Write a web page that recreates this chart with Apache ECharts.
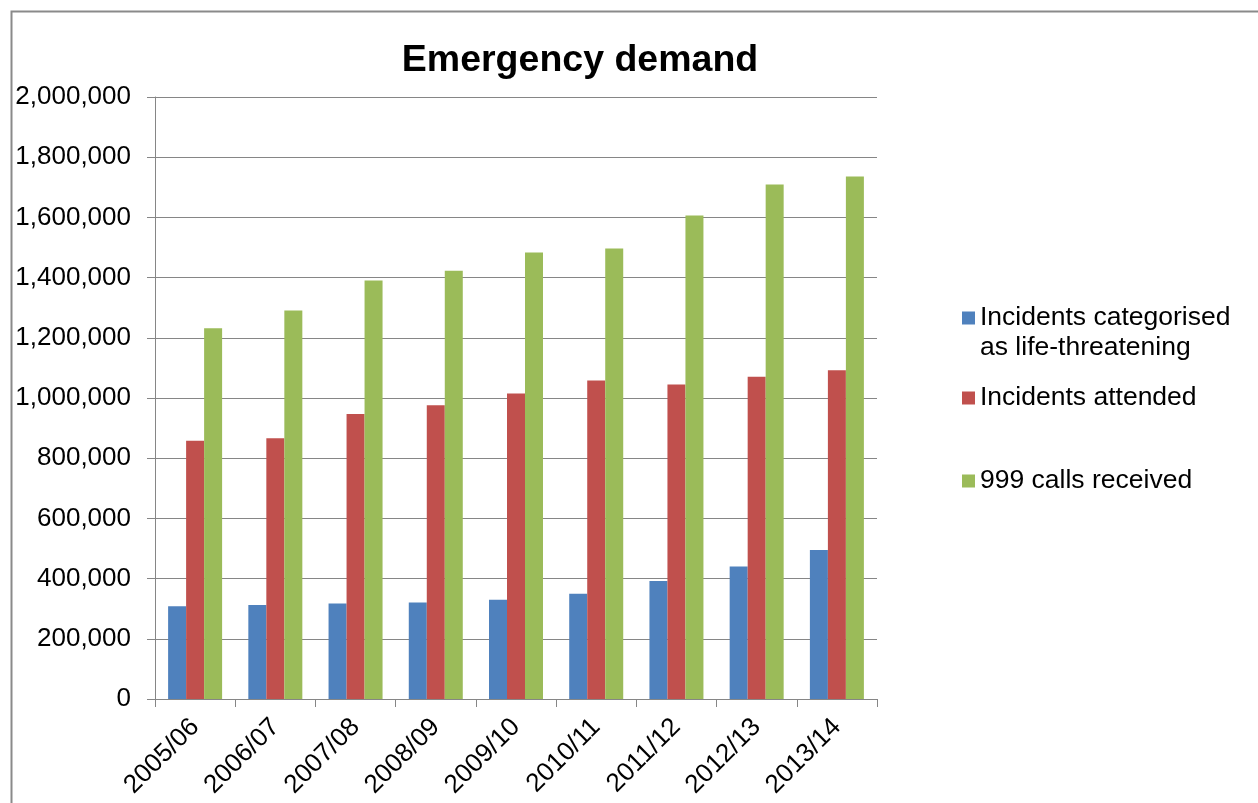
<!DOCTYPE html>
<html>
<head>
<meta charset="utf-8">
<script src="https://cdn.jsdelivr.net/npm/echarts@6/dist/echarts.min.js"></script>
<style>
html,body{margin:0;padding:0;background:#fff;}
#chart{width:1258px;height:803px;}
</style>
</head>
<body>
<div id="chart"></div>
<script>
const categories = ['2005/06','2006/07','2007/08','2008/09','2009/10','2010/11','2011/12','2012/13','2013/14'];
const lifeThreatening = [308000, 312000, 317000, 321000, 330000, 350000, 392000, 440000, 495000];
const attended = [858000, 866000, 947000, 976000, 1015000, 1058000, 1045000, 1071000, 1092000];
const calls = [1232000, 1291000, 1390000, 1423000, 1483000, 1497000, 1606000, 1709000, 1736000];
const seriesNames = ['Incidents categorised\nas life-threatening', 'Incidents attended', '999 calls received'];

const FONT = '"Liberation Sans", Arial, sans-serif';
const chart = echarts.init(document.getElementById('chart'));
const legendText = {fontFamily: FONT, fontSize: 26.5, color: '#000', lineHeight: 30};
const legendBase = {orient: 'vertical', left: 962, padding: 0, itemWidth: 13, itemHeight: 13,
  icon: 'rect', selectedMode: false, textStyle: legendText};
chart.setOption({
  animation: false,
  backgroundColor: '#fff',
  color: ['#4F81BD', '#C0504D', '#9BBB59'],
  title: {
    text: 'Emergency demand',
    left: 575, top: 37, textAlign: 'center',
    textStyle: {fontFamily: FONT, fontSize: 37.5, fontWeight: 'bold', color: '#000'}
  },
  graphic: [{
    type: 'rect', left: 9, top: 9, silent: true,
    shape: {width: 1248, height: 820},
    style: {fill: 'none', stroke: '#8a8a8a', lineWidth: 2}
  }],
  legend: [
    Object.assign({}, legendBase, {data: [seriesNames[0]], top: 273,
      formatter: name => '\u00a0\n' + name}),
    Object.assign({}, legendBase, {data: [seriesNames[1]], top: 383}),
    Object.assign({}, legendBase, {data: [seriesNames[2]], top: 466})
  ],
  grid: {left: 155, right: 381, top: 97, bottom: 104, containLabel: false},
  xAxis: {
    type: 'category', data: categories, boundaryGap: true,
    axisLine: {lineStyle: {color: '#868686', width: 1}},
    axisTick: {show: true, length: 8, lineStyle: {color: '#868686'}},
    axisLabel: {rotate: 45, margin: 24, fontFamily: FONT, fontSize: 26, color: '#000', interval: 0}
  },
  yAxis: {
    type: 'value', min: 0, max: 2000000, interval: 200000,
    axisLine: {show: true, lineStyle: {color: '#868686', width: 1}},
    axisTick: {show: true, length: 8, lineStyle: {color: '#868686'}},
    splitLine: {show: true, lineStyle: {color: '#868686', width: 1}},
    axisLabel: {margin: 24, fontFamily: FONT, fontSize: 26, color: '#000',
      formatter: v => v.toLocaleString('en-US')}
  },
  series: [
    {name: seriesNames[0], type: 'bar', data: lifeThreatening, barWidth: 18, barGap: '0%'},
    {name: seriesNames[1], type: 'bar', data: attended, barWidth: 18, barGap: '0%'},
    {name: seriesNames[2], type: 'bar', data: calls, barWidth: 18, barGap: '0%'}
  ]
});
</script>
</body>
</html>
